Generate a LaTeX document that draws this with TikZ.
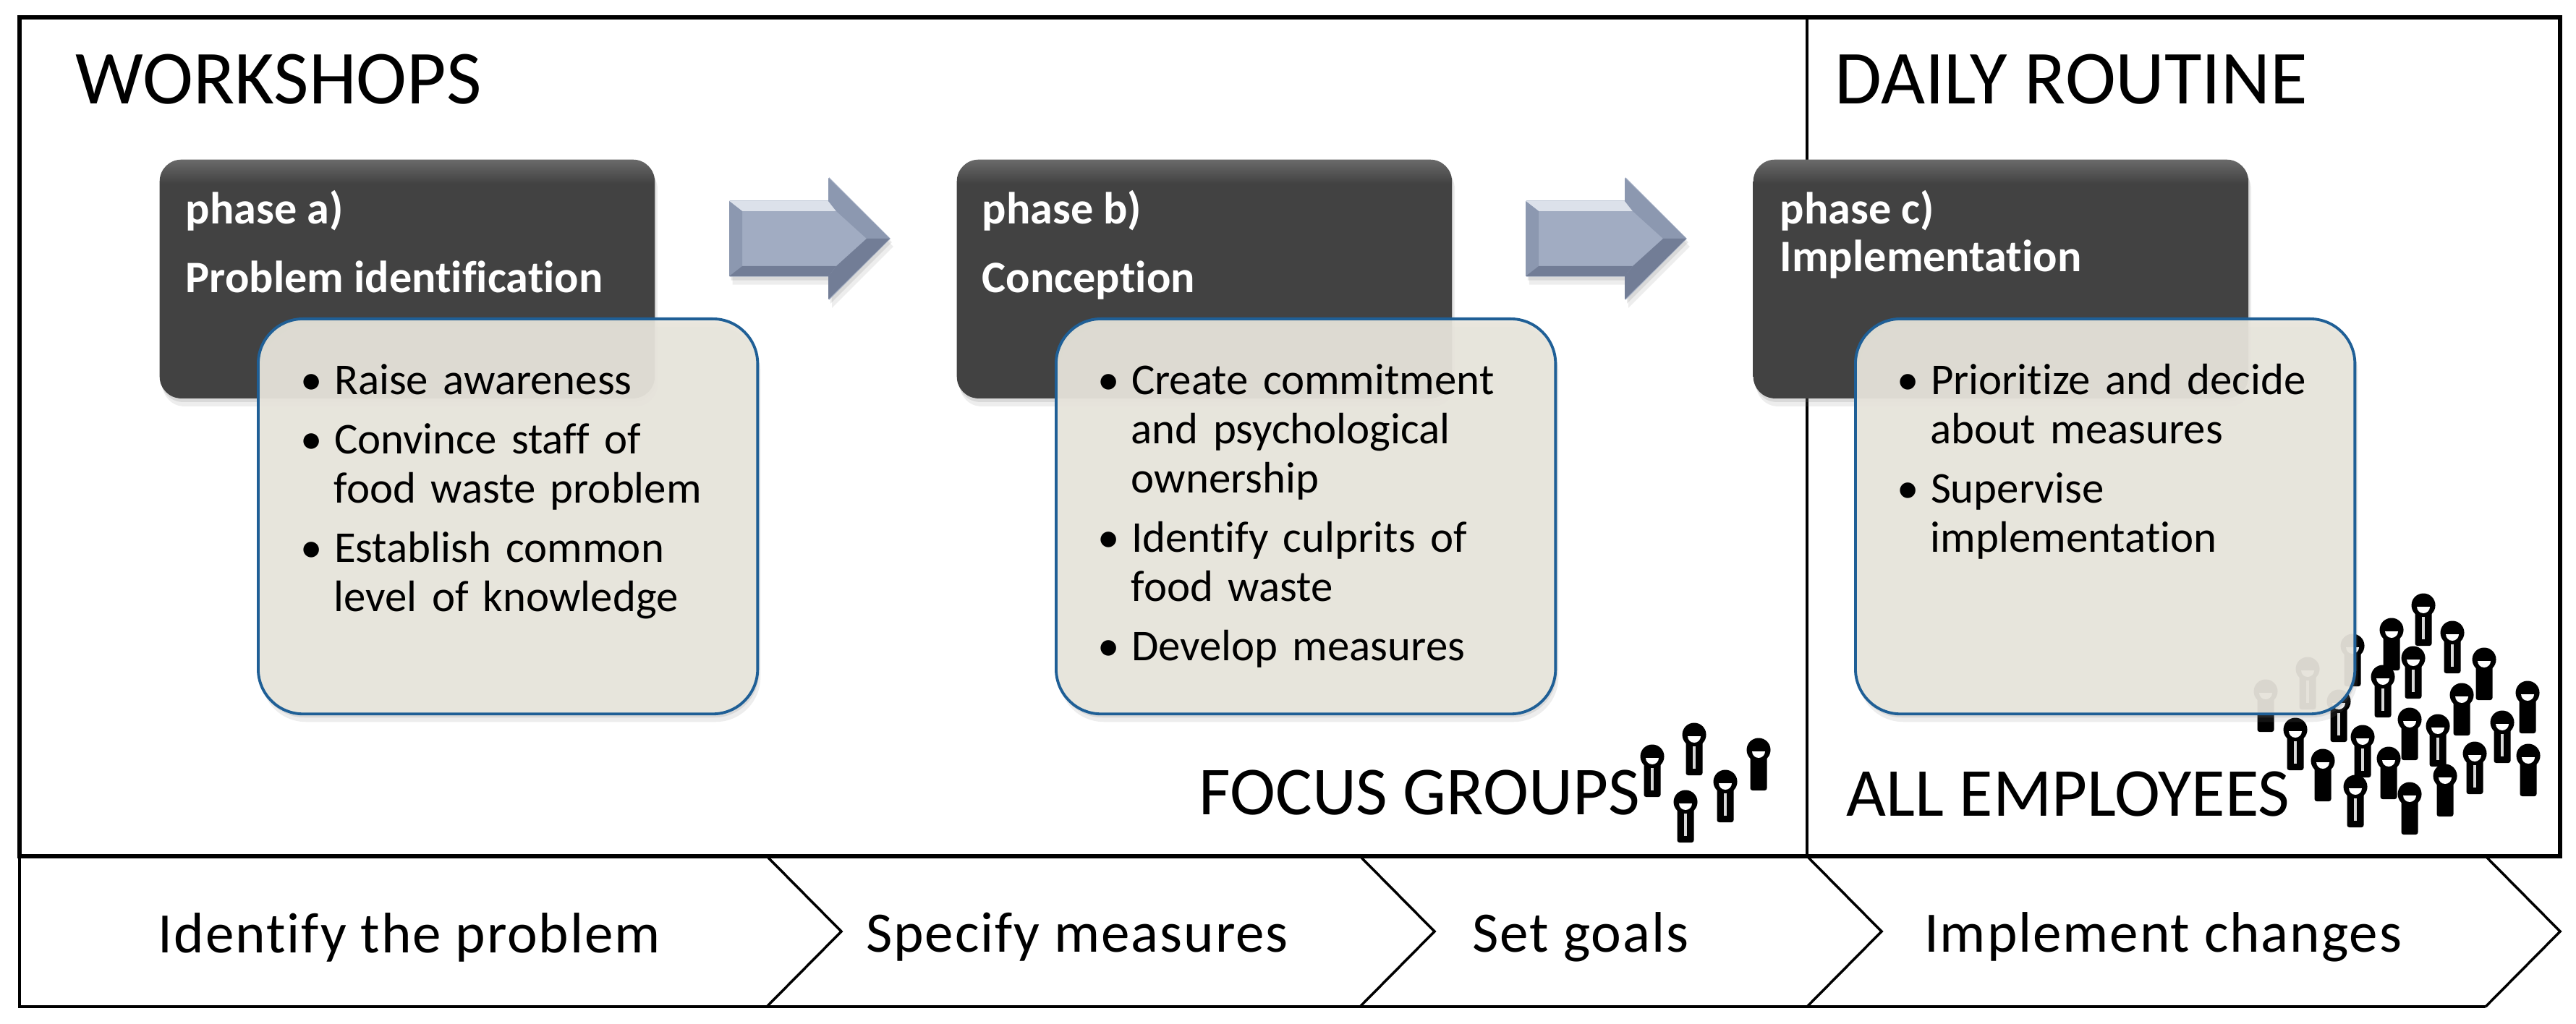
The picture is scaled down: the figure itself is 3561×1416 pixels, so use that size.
\documentclass[tikz,border=0pt]{standalone}
\usepackage{fontspec}
\setmainfont{Carlito}[Ligatures=NoCommon]
\usetikzlibrary{positioning,calc,shadows,shapes.arrows}
\definecolor{wsDark}{HTML}{424242}
\definecolor{wsBevel}{HTML}{6A6A6A}
\definecolor{wsPaper}{HTML}{E9E6DD}
\definecolor{wsBlue}{HTML}{1F5F96}
\definecolor{wsArrowHi}{HTML}{DCE1EA}
\definecolor{wsArrowMid}{HTML}{A1ACC2}
\definecolor{wsArrowSide}{HTML}{8C98B0}
\definecolor{wsArrowLo}{HTML}{727D96}
\pgfdeclareverticalshading{wsDarkShade}{100bp}{
  color(0bp)=(wsDark); color(70bp)=(wsDark); color(75bp)=(wsBevel); color(100bp)=(wsBevel)}
\tikzset{
  softshadow/.style={
    drop shadow={shadow xshift=0.02cm, shadow yshift=-0.05cm, opacity=0.18},
    drop shadow={shadow xshift=0.04cm, shadow yshift=-0.11cm, opacity=0.14}},
  phasebox/.style={rectangle, rounded corners=0.3cm, shading=wsDarkShade,
    minimum width=6.84cm, minimum height=3.3cm, anchor=north west, softshadow},
  pointbox/.style={rectangle, rounded corners=0.62cm, draw=wsBlue, line width=1.1pt,
    fill=wsPaper, fill opacity=0.92, draw opacity=1,
    minimum width=6.9cm, minimum height=5.46cm, anchor=north west, softshadow},
  phasetext/.style={anchor=north west, inner sep=0pt, text=white, align=left,
    font=\fontsize{17.7}{19.3}\selectfont\bfseries},
  pointtext/.style={anchor=north west, inner sep=0pt, text width=5.9cm, align=left,
    font=\fontsize{17.3}{19.3}\selectfont},
  headtext/.style={anchor=west, inner sep=0pt, font=\fontsize{30}{36}\selectfont},
  grouptext/.style={anchor=west, inner sep=0pt, font=\fontsize{27}{32}\selectfont},
  steptext/.style={anchor=center, inner sep=0pt,
    font=\fontsize{22.5}{26}\selectfont\addfontfeature{LetterSpace=2.4}},
  blockarrow/.style={single arrow, single arrow head extend=0.32cm, single arrow tip angle=90,
    single arrow head indent=0cm, minimum height=2.22cm, minimum width=1.68cm,
    inner xsep=0pt, inner ysep=0.52cm, anchor=west, fill=wsArrowMid, softshadow},
  staff/.pic={
    \fill[black, rounded corners=0.03cm] (-11.5,0) rectangle (11.5,56);
    \fill[black] (0,0) circle (16.5);
    \fill[white] (-9,2) arc (180:0:9) -- cycle;
    \fill[white!85!black, opacity=#1] (-1.8,16) rectangle (1.8,47);
  },
}
\newenvironment{pointlist}{\begin{list}{\textbullet}{\leftmargin=0.46cm \labelwidth=0.3cm
  \labelsep=0.16cm \topsep=0pt \partopsep=0pt \parsep=0pt \itemsep=4pt}\raggedright}{\end{list}}

\begin{document}
\begin{tikzpicture}[x=0.01cm, y=-0.01cm]
\useasboundingbox (0,0) rectangle (3561,1416);

% --- PARAMETERS ---
\def\focusgroup{2284/1046/1, 2342/1016/1, 2385/1081/1, 2330/1109/1, 2431/1037/0}
\def\crowd{3252/893/0, 3350/837/1, 3306/871/0, 3390/875/1, 3336/910/1, 3434/912/0,
  3294/936/1, 3403/961/0, 3494/958/0, 3331/995/0, 3233/970/1, 3190/925/1, 3132/956/0,
  3173/1009/1, 3459/999/1, 3370/1004/1, 3266/1019/1, 3211/1052/0, 3421/1042/1,
  3495/1045/0, 3302/1049/0, 3380/1073/0, 3256/1088/1, 3331/1098/0}
\def\stepTop{1184}
\def\stepLow{1392}

% --- STEP BAR ---
\draw[black, line width=1pt] (27,\stepTop) -- (27,\stepLow) -- (3436,\stepLow);
\foreach \tipx in {1060, 1880, 2498, 3436} {
  \draw[black, line width=1pt, line join=miter]
    (\tipx,\stepTop) -- (\tipx+103,1288) -- (\tipx,\stepLow);
}
\node[steptext] (stepa) at (566,1296) {Identify the problem};
\node[steptext] (stepb) at (1489,1296) {Specify measures};
\node[steptext] (stepc) at (2185,1296) {Set goals};
\node[steptext] (stepd) at (2990,1296) {Implement changes};

% --- FRAME ---
\draw[black, line width=1.6pt] (27,24) rectangle (3539,1184);
\draw[black, line width=1.2pt] (2498,24) -- (2498,1184);

% --- HEADINGS ---
\node[headtext] (workshops) at (104,110) {WORKSHOPS};
\node[headtext] (daily) at (2536,110) {DAILY ROUTINE};
\node[grouptext] (focus) at (1657,1096) {FOCUS GROUPS};
\node[grouptext] (allstaff) at (2552,1098) {ALL EMPLOYEES};

% --- PEOPLE ---
\foreach \hx/\hy/\slit in \focusgroup { \pic at (\hx,\hy) {staff=\slit}; }
\foreach \hx/\hy/\slit in \crowd { \pic at (\hx,\hy) {staff=\slit}; }

% --- ARROWS ---
\node[blockarrow] (arrowab) at (1008,330) {};
\node[blockarrow] (arrowbc) at (2109,330) {};
\foreach \arrowname in {arrowab, arrowbc} {
  \begin{scope}[shift={(\arrowname.west)}]
    \fill[wsArrowHi] (0,-52) -- (137,-52) -- (148,-38) -- (18,-38) -- cycle;
    \fill[wsArrowSide] (0,-52) -- (18,-38) -- (18,38) -- (0,52) -- cycle;
    \fill[wsArrowLo] (0,52) -- (18,38) -- (148,38) -- (137,52) -- cycle;
    \fill[wsArrowSide] (137,-84) -- (222,0) -- (190,0) -- (148,-38) -- (137,-52) -- cycle;
    \fill[wsArrowLo] (137,84) -- (222,0) -- (190,0) -- (148,38) -- (137,52) -- cycle;
  \end{scope}
}

% --- PHASE BOXES ---
\node[phasebox] (phasea) at (220,220) {};
\node[phasebox] (phaseb) at (1322,220) {};
\node[phasebox] (phasec) at (2423,220) {};
\node[phasetext] (labela) at (256,263) {phase a)\\[7.7pt] Problem identification};
\node[phasetext] (labelb) at (1357,263) {phase b)\\[7.7pt] Conception};
\node[phasetext] (labelc) at (2460,263) {phase c)\\[-0.6pt] Implementation};

% --- POINT BOXES ---
\node[pointbox] (boxa) at (355,439) {};
\node[pointbox] (boxb) at (1458,439) {};
\node[pointbox] (boxc) at (2563,439) {};
\node[pointtext] (pointsa) at (415,477) {\begin{pointlist}
  \item Raise awareness
  \item Convince staff of\\ food waste problem
  \item Establish common level of knowledge
\end{pointlist}};
\node[pointtext] (pointsb) at (1517,477) {\begin{pointlist}
  \item Create commitment and psychological ownership
  \item Identify culprits of food waste
  \item Develop measures
\end{pointlist}};
\node[pointtext] (pointsc) at (2622,477) {\begin{pointlist}
  \item Prioritize and decide about measures
  \item Supervise implementation
\end{pointlist}};

\end{tikzpicture}
\end{document}
